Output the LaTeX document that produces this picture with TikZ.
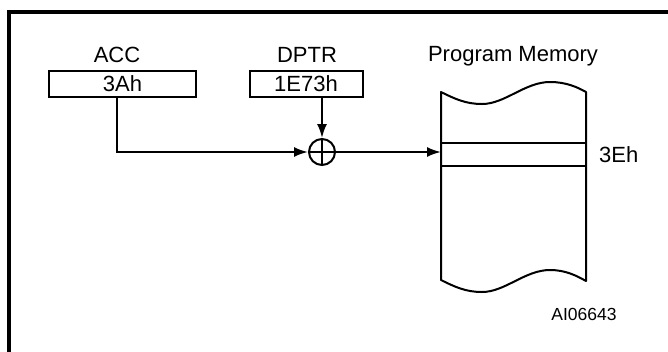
\documentclass[tikz,border=0pt]{standalone}
\usepackage{fontspec}
\setmainfont{Liberation Sans}
\usetikzlibrary{arrows.meta}
\begin{document}
\begin{tikzpicture}[x=1bp,y=-1bp,
  lbl/.style={inner sep=0pt,font=\fontsize{22bp}{24bp}\selectfont},
  small/.style={inner sep=0pt,font=\fontsize{17.5bp}{20bp}\selectfont},
  regbox/.style={draw,line width=2bp,minimum height=26bp,inner sep=0pt,font=\fontsize{22bp}{24bp}\selectfont},
  wire/.style={line width=2bp},
  arr/.style={wire,-{Latex[length=14bp,width=10bp]}},
  frame/.style={line width=3.5bp}]
\useasboundingbox (0,0) rectangle (668,351);
% frame
\draw[frame] (9,360) -- (9,12) -- (680,12);
% registers
\node[regbox,minimum width=146bp] (acc) at (122.5,84) {3Ah};
\node[lbl,anchor=base] (acclbl) at (117,62) {ACC};
\node[regbox,minimum width=113bp] (dptr) at (306,84) {1E73h};
\node[lbl,anchor=base] (dptrlbl) at (307,62) {DPTR};
% adder
\node[draw,circle,line width=2bp,minimum size=26bp,inner sep=0pt] (sum) at (322,152) {};
\draw[line width=1.6bp] (sum.north) -- (sum.south) (sum.west) -- (sum.east);
% memory
\coordinate (memin) at (441,152);
\draw[line width=2bp,line join=round]
  (441,92) .. controls (455,99) and (466,104) .. (482,104)
  .. controls (505,104) and (525,82) .. (550,82)
  .. controls (566,82) and (577,87) .. (586,92)
  -- (586,281)
  .. controls (577,276) and (566,270) .. (550,270)
  .. controls (525,270) and (505,292) .. (482,292)
  .. controls (466,292) and (455,287) .. (441,280) -- cycle;
\draw[line width=2bp] (441,143) -- (586,143) (441,166) -- (586,166);
\node[lbl,anchor=base] (memlbl) at (513,61) {Program Memory};
\node[lbl,anchor=base west] (addr) at (599,162) {3Eh};
\node[small,anchor=base] (code) at (584,320) {AI06643};
% connectors
\coordinate (accout) at (117,97);
\draw[arr] (accout) |- (sum.west);
\draw[arr] (dptr.south -| sum.north) -- (sum.north);
\draw[arr] (sum.east) -- (memin);
\end{tikzpicture}
\end{document}
